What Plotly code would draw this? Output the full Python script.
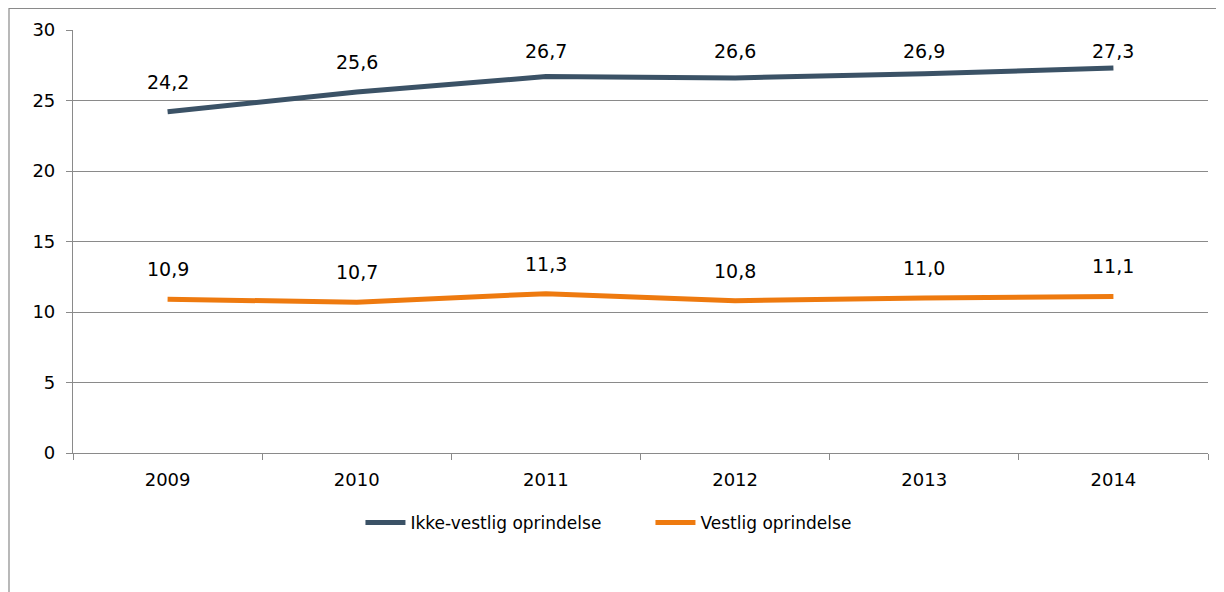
import plotly.graph_objects as go

years = ["2009", "2010", "2011", "2012", "2013", "2014"]
ikke_vestlig = [24.2, 25.6, 26.7, 26.6, 26.9, 27.3]
vestlig = [10.9, 10.7, 11.3, 10.8, 11.0, 11.1]
series_names = ["Ikke-vestlig oprindelse", "Vestlig oprindelse"]
y_ticks = [0, 5, 10, 15, 20, 25, 30]

FONT = "DejaVu Sans"
COLORS = ["#3B5266", "#EE7A0F"]
GRAY = "#8A8A8A"

# page offset (browser body margin) compensation
L, T = 65, 22
PW, PH = 1135, 423
Y_MAX = 30
LABEL_OFFSET = 30   # px above the point
LABEL_MIN_TOP = 21  # label centre kept at least this far below the plot top

def fmt(v):
    return f"{v:.1f}".replace(".", ",")

fig = go.Figure()
for name, vals, col in zip(series_names, [ikke_vestlig, vestlig], COLORS):
    fig.add_trace(go.Scatter(
        x=years, y=vals, name=name, mode="lines",
        line=dict(color=col, width=5),
        cliponaxis=False,
    ))
    for i, yv in enumerate(vals):
        px_from_top = (Y_MAX - yv) / Y_MAX * PH
        shift = min(LABEL_OFFSET, px_from_top - LABEL_MIN_TOP)
        fig.add_annotation(x=i, y=yv, xref="x", yref="y", text=fmt(yv),
                           showarrow=False, yshift=shift, yanchor="middle",
                           font=dict(family=FONT, size=19, color="#000000"))

# outer chart frame (extends beyond the visible image)
fig.add_shape(type="rect", xref="paper", yref="paper",
              x0=(1 - L) / PW, x1=1.3, y0=-1.0, y1=(PH + T - 0.5) / PH,
              line=dict(color=GRAY, width=1.2), fillcolor="rgba(0,0,0,0)")

fig.update_layout(
    width=1224, height=592,
    margin=dict(l=L, r=1224 - L - PW, t=T, b=592 - T - PH),
    paper_bgcolor="white", plot_bgcolor="white",
    font=dict(family=FONT, size=18, color="#000000"),
    showlegend=True,
    legend=dict(orientation="h", x=(357 - L) / PW - 0.004, xanchor="left",
                y=-0.123, yanchor="top", entrywidth=235, entrywidthmode="pixels",
                font=dict(family=FONT, size=17), itemwidth=40, tracegroupgap=0),
    xaxis=dict(type="category", range=[-0.5, 5.5], showgrid=False,
               showline=True, linecolor=GRAY, linewidth=1.2,
               ticks="outside", tickson="boundaries", ticklen=6, tickcolor=GRAY,
               ticklabelstandoff=10,
               tickfont=dict(family=FONT, size=18)),
    yaxis=dict(range=[0, Y_MAX], tickvals=y_ticks, showgrid=True, gridcolor=GRAY,
               gridwidth=1.2, showline=True, linecolor=GRAY, linewidth=1.2,
               ticks="outside", ticklen=6, tickcolor=GRAY, zeroline=False,
               ticklabelstandoff=7,
               tickfont=dict(family=FONT, size=18)),
)

fig.write_html("out.html")
